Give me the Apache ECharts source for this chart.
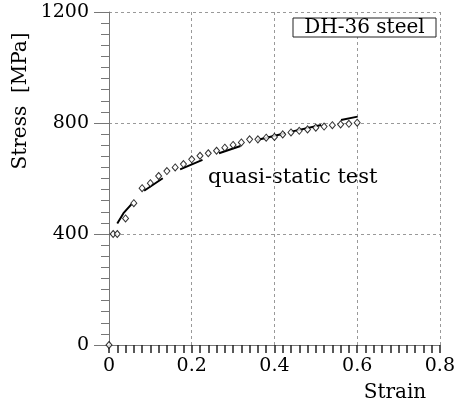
<!DOCTYPE html>
<html style="height: 100%">
<head>
    <meta charset="utf-8">
</head>
<body style="height: 100%; margin: 0; background: #fff">
    <div id="container" style="width: 458px; height: 406px"></div>
    <script type="text/javascript" src="https://cdn.jsdelivr.net/npm/echarts@6/dist/echarts.min.js"></script>
    <script type="text/javascript">
        // measured points (diamonds)
        var strain = [0, 0.01, 0.02, 0.04, 0.06, 0.08, 0.10, 0.12, 0.14, 0.16, 0.18, 0.20,
            0.22, 0.24, 0.26, 0.28, 0.30, 0.32, 0.34, 0.36, 0.38, 0.40, 0.42, 0.44,
            0.46, 0.48, 0.50, 0.52, 0.54, 0.56, 0.58, 0.60];
        var stress = [0, 400, 400, 456, 511, 565, 583, 609, 627, 640, 652, 669,
            682, 691, 700, 711, 721, 730, 741, 741, 747, 750, 759, 766,
            772, 777, 783, 787, 792, 795, 797, 801];

        // fitted segments, null = gap
        var fitStrain = [0.02, 0.035, 0.054, null, 0.085, 0.13, null, 0.172, 0.226, null,
            0.266, 0.318, null, 0.358, 0.426, null, 0.441, 0.513, null, 0.561, 0.601];
        var fitStress = [438, 475, 507, null, 556, 601, null, 633, 667, null,
            691, 717, null, 739, 763, null, 769, 793, null, 811, 823];

        var xTicks = ['0', '0.2', '0.4', '0.6', '0.8'];
        var yTicks = ['0', '400', '800', '1200'];

        var font = 'DejaVu Serif';
        var dom = document.getElementById("container");
        var myChart = echarts.init(dom);

        function pairs(xs, ys) {
            return xs.map(function (x, i) {
                return x === null ? [null, null] : [x, ys[i]];
            });
        }

        var option = {
            animation: false,
            backgroundColor: '#fff',
            grid: { left: 109, right: 15, top: 12, bottom: 61 },
            xAxis: {
                type: 'value', min: 0, max: 0.8, interval: 0.2,
                axisLine: { show: true, onZero: false, lineStyle: { color: '#777', width: 1 } },
                axisTick: { show: true, length: 8, lineStyle: { color: '#222', width: 1.5 } },
                minorTick: { show: true, splitNumber: 10, length: 8, lineStyle: { color: '#222', width: 1.5 } },
                splitLine: { lineStyle: { color: '#999', type: [3, 3] } },
                axisLabel: {
                    color: '#000', fontFamily: font, fontSize: 19, margin: 12,
                    formatter: function (v, i) { return xTicks[i]; }
                }
            },
            yAxis: {
                type: 'value', min: 0, max: 1200, interval: 400,
                axisLine: { show: true, lineStyle: { color: '#777', width: 1 } },
                axisTick: { show: true, length: 15, lineStyle: { color: '#777' } },
                minorTick: { show: true, splitNumber: 10, length: 8, lineStyle: { color: '#777' } },
                splitLine: { lineStyle: { color: '#999', type: [3, 3] } },
                axisLabel: {
                    color: '#000', fontFamily: font, fontSize: 19, margin: 20,
                    formatter: function (v, i) { return yTicks[i]; }
                }
            },
            series: [
                {
                    type: 'line',
                    data: pairs(fitStrain, fitStress),
                    showSymbol: false,
                    connectNulls: false,
                    lineStyle: { color: '#000', width: 2 },
                    z: 3
                },
                {
                    type: 'scatter',
                    data: pairs(strain, stress),
                    symbol: 'diamond',
                    symbolSize: [6, 7],
                    itemStyle: { color: '#fff', borderColor: '#000', borderWidth: 1 },
                    z: 4
                }
            ],
            graphic: [
                {
                    type: 'text', x: 21, y: 101, rotation: Math.PI / 2,
                    style: { text: 'Stress  [MPa]', font: '20px "DejaVu Serif"', fill: '#000', align: 'center', verticalAlign: 'middle' }
                },
                {
                    type: 'text', x: 395, y: 393,
                    style: { text: 'Strain', font: '20px "DejaVu Serif"', fill: '#000', align: 'center', verticalAlign: 'middle' }
                },
                {
                    type: 'text', x: 208, y: 178,
                    style: { text: 'quasi-static test', font: '21px "DejaVu Serif"', fill: '#000', align: 'left', verticalAlign: 'middle' }
                },
                {
                    type: 'rect', shape: { x: 293, y: 18, width: 143, height: 19 },
                    style: { fill: '#fff', stroke: '#222', lineWidth: 1 }, z: 10
                },
                {
                    type: 'text', x: 364.5, y: 28, z: 11,
                    style: { text: 'DH-36 steel', font: '20px "DejaVu Serif"', fill: '#000', align: 'center', verticalAlign: 'middle' }
                }
            ]
        };
        myChart.setOption(option);
    </script>
</body>
</html>
